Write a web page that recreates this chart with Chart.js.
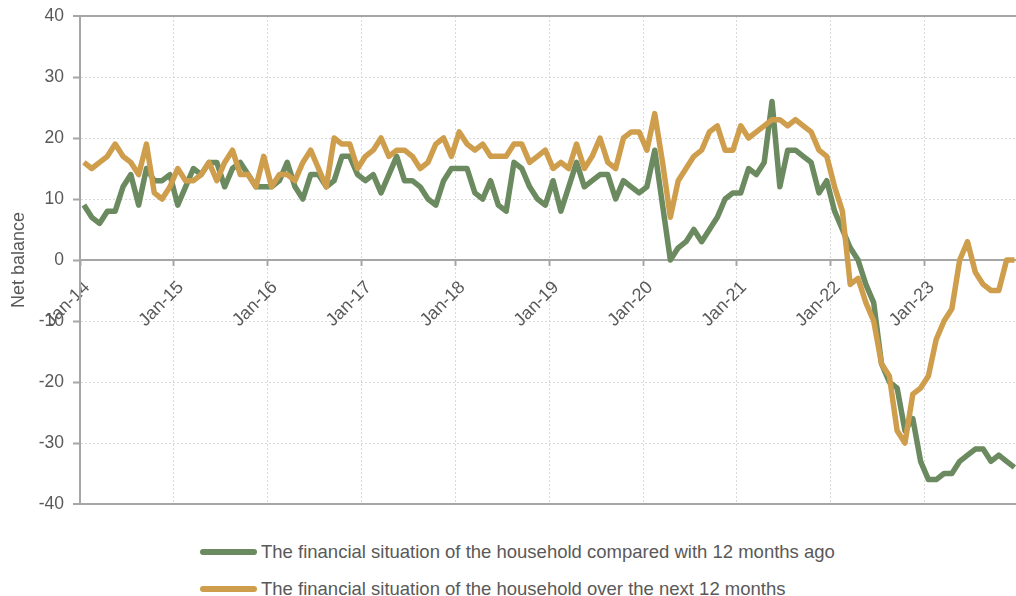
<!DOCTYPE html>
<html>
<head>
<meta charset="utf-8">
<script src="https://cdn.jsdelivr.net/npm/chart.js@4/dist/chart.umd.min.js"></script>
<style>
html, body { margin: 0; padding: 0; background: #fff; overflow: hidden; }
#wrap { position: relative; width: 1016px; height: 596px; }
#myChart { position: absolute; left: 0; top: 0; }
#legend { position: absolute; left: 200px; top: 533px; font-family: "Liberation Sans", Arial, sans-serif; font-size: 18.5px; color: #595959; }
.item { display: flex; align-items: center; height: 37px; white-space: nowrap; }
.swatch { display: inline-block; width: 57px; height: 6px; border-radius: 3px; margin-right: 4px; }
</style>
</head>
<body>
<div id="wrap">
  <canvas id="myChart" width="1016" height="524"></canvas>
  <div id="legend"></div>
</div>
<script>
var FONT = '"Liberation Sans", Arial, sans-serif';

// x-axis labels, one per January (Jan-14 .. Jan-23)
var yearTicks = ['Jan-14', 'Jan-15', 'Jan-16', 'Jan-17', 'Jan-18', 'Jan-19', 'Jan-20', 'Jan-21', 'Jan-22', 'Jan-23'];

// monthly net balances, Jan-14 .. Dec-23
var pastYear = [
    9, 7, 6, 8, 8, 12, 14, 9, 15, 13, 13, 14,
    9, 12, 15, 14, 16, 16, 12, 15, 16, 14, 12, 12,
    12, 13, 16, 12, 10, 14, 14, 12, 13, 17, 17, 14,
    13, 14, 11, 14, 17, 13, 13, 12, 10, 9, 13, 15,
    15, 15, 11, 10, 13, 9, 8, 16, 15, 12, 10, 9,
    13, 8, 12, 16, 12, 13, 14, 14, 10, 13, 12, 11,
    12, 18, 9, 0, 2, 3, 5, 3, 5, 7, 10, 11,
    11, 15, 14, 16, 26, 12, 18, 18, 17, 16, 11, 13,
    8, 5, 2, 0, -4, -7, -17, -20, -21, -28, -26, -33,
    -36, -36, -35, -35, -33, -32, -31, -31, -33, -32, -33, -34
];
var nextYear = [
    16, 15, 16, 17, 19, 17, 16, 14, 19, 11, 10, 12,
    15, 13, 13, 14, 16, 13, 16, 18, 14, 14, 12, 17,
    12, 14, 14, 13, 16, 18, 15, 12, 20, 19, 19, 15,
    17, 18, 20, 17, 18, 18, 17, 15, 16, 19, 20, 17,
    21, 19, 18, 19, 17, 17, 17, 19, 19, 16, 17, 18,
    15, 16, 15, 19, 15, 17, 20, 16, 15, 20, 21, 21,
    18, 24, 16, 7, 13, 15, 17, 18, 21, 22, 18, 18,
    22, 20, 21, 22, 23, 23, 22, 23, 22, 21, 18, 17,
    12, 8, -4, -3, -7, -10, -17, -19, -28, -30, -22, -21,
    -19, -13, -10, -8, 0, 3, -2, -4, -5, -5, 0, 0
];

var seriesNames = [
    'The financial situation of the household compared with 12 months ago',
    'The financial situation of the household over the next 12 months'
];
var seriesColors = ['#6b8a5f', '#cf9e4c'];

// each month sits in the middle of its slot, Januaries on the year ticks
function toPoints(values) {
    return values.map(function (v, i) { return { x: i + 0.5, y: v }; });
}

function isEdge(ctx) {
    return ctx.tick && Math.abs(ctx.tick.value) === 40;
}

var ctx = document.getElementById('myChart').getContext('2d');
var chart = new Chart(ctx, {
    type: 'line',
    data: {
        datasets: [{
            label: seriesNames[0],
            data: toPoints(pastYear),
            borderColor: seriesColors[0],
            backgroundColor: seriesColors[0],
            order: 2
        }, {
            label: seriesNames[1],
            data: toPoints(nextYear),
            borderColor: seriesColors[1],
            backgroundColor: seriesColors[1],
            order: 1
        }]
    },
    options: {
        responsive: false,
        animation: false,
        events: [],
        layout: { padding: { top: 16, right: 0, bottom: 20, left: 0 } },
        elements: {
            line: { borderWidth: 5.5, tension: 0, borderJoinStyle: 'round', borderCapStyle: 'butt' },
            point: { radius: 0 }
        },
        plugins: {
            legend: { display: false },
            tooltip: { enabled: false }
        },
        scales: {
            x: {
                type: 'linear',
                position: { y: 0 },
                min: 0,
                max: 119.7,
                afterFit: function (s) { s.height = 0; },
                ticks: {
                    stepSize: 12,
                    autoSkip: false,
                    includeBounds: false,
                    minRotation: 45,
                    maxRotation: 45,
                    padding: 12,
                    labelOffset: 7,
                    color: '#595959',
                    font: { family: FONT, size: 18 },
                    callback: function (v) { return yearTicks[v / 12]; }
                },
                grid: { color: '#d9d9d9', lineWidth: 1, tickColor: '#a6a6a6', tickWidth: 2, tickLength: 5 },
                border: { color: '#a6a6a6', width: 2, dash: [2, 2] }
            },
            y: {
                min: -40,
                max: 40,
                afterFit: function (s) {
                    s.width = 80;
                    s.paddingTop = 0;
                    s.paddingBottom = 0;
                },
                ticks: {
                    stepSize: 10,
                    color: '#595959',
                    padding: 9,
                    font: { family: FONT, size: 17.5 }
                },
                grid: {
                    color: function (c) { return isEdge(c) ? '#a6a6a6' : '#d9d9d9'; },
                    lineWidth: function (c) { return isEdge(c) ? 2 : 1; },
                    tickColor: '#a6a6a6',
                    tickWidth: 2,
                    tickLength: 7
                },
                border: {
                    color: '#a6a6a6',
                    width: 2,
                    dash: function (c) { return isEdge(c) ? [] : [2, 2]; }
                },
                title: {
                    display: true,
                    text: 'Net balance',
                    color: '#595959',
                    font: { family: FONT, size: 18 },
                    padding: { top: 8, bottom: 0 }
                }
            }
        }
    }
});

// legend below the plot, rows left-aligned like the original
var legendBox = document.getElementById('legend');
chart.data.datasets.forEach(function (ds) {
    var row = document.createElement('div');
    row.className = 'item';
    var sw = document.createElement('span');
    sw.className = 'swatch';
    sw.style.background = ds.borderColor;
    row.appendChild(sw);
    row.appendChild(document.createTextNode(ds.label));
    legendBox.appendChild(row);
});
</script>
</body>
</html>
